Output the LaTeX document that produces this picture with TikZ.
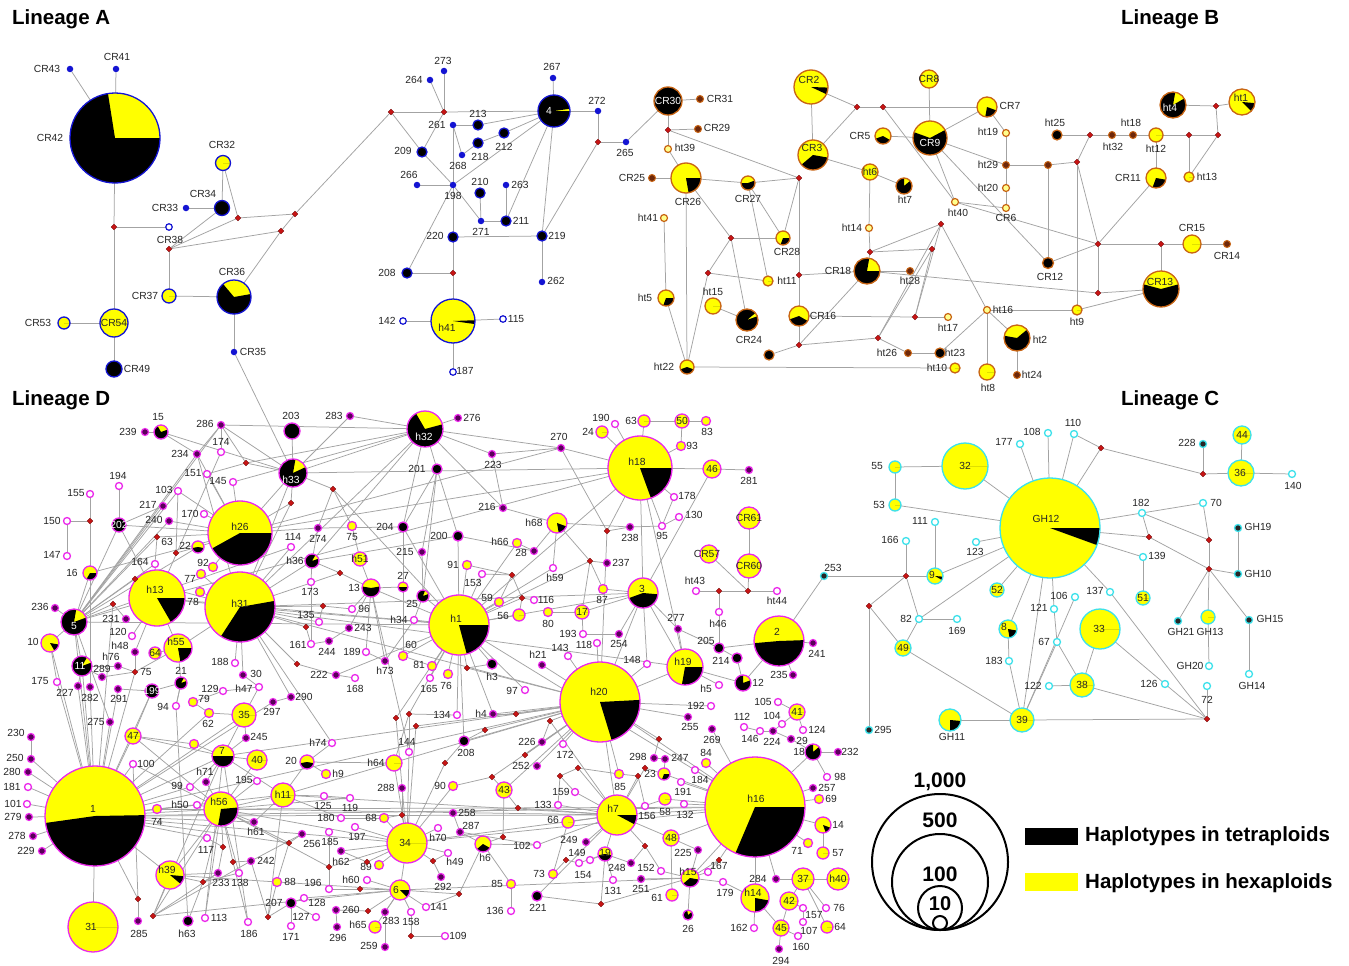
\documentclass[tikz,border=0pt]{standalone}
\usepackage{fontspec}
\setmainfont{Liberation Sans}
\usetikzlibrary{shapes.geometric}
\pgfdeclarelayer{bg}
\pgfsetlayers{bg,main}
\definecolor{cA}{RGB}{20,20,210}
\definecolor{cB}{RGB}{200,100,20}
\definecolor{cBd}{RGB}{110,40,10}
\definecolor{cC}{RGB}{60,225,235}
\definecolor{cD}{RGB}{235,40,235}
\definecolor{cDd}{RGB}{90,0,90}
\definecolor{yel}{RGB}{255,255,0}
\definecolor{mvred}{RGB}{200,20,20}
\tikzset{
 hbase/.style={circle,inner sep=0pt,outer sep=0pt},
 aS/.style={hbase,fill=cA,minimum size=6.5pt},
 aM/.style={hbase,fill=black,draw=cA,line width=1.3pt,minimum size=10pt},
 aH/.style={hbase,fill=white,draw=cA,line width=1.2pt,minimum size=6.5pt},
 bS/.style={hbase,fill=cBd,draw=cB,line width=1pt,minimum size=7pt},
 bH/.style={hbase,fill=yel!45,draw=cB,line width=1.2pt,minimum size=7pt},
 bK/.style={hbase,fill=black,draw=cB,line width=1.2pt,minimum size=10pt},
 cS/.style={hbase,fill=white,draw=cC,line width=1.3pt,minimum size=7pt},
 cK/.style={hbase,fill=black!85,draw=cC,line width=1.3pt,minimum size=7pt},
 dS/.style={hbase,fill=cDd,draw=cD,line width=1.2pt,minimum size=7pt},
 dO/.style={hbase,fill=white,draw=cD,line width=1.3pt,minimum size=7pt},
 dY/.style={hbase,fill=yel,draw=cD,line width=1.3pt,minimum size=9pt},
 dK/.style={hbase,fill=black,draw=cD,line width=1.3pt,minimum size=10pt},
 med/.style={diamond,fill=mvred,draw=mvred!60!black,line width=0.3pt,inner sep=0pt,minimum size=6pt},
 lab/.style={inner sep=0pt,font=\fontsize{10.3}{12}\selectfont,text=black!85},
 labw/.style={lab,text=white},
 ttl/.style={inner sep=0pt,font=\fontsize{20.5}{24}\selectfont\bfseries,anchor=west},
 edge/.style={draw=black!36,line width=0.75pt},
}
\newcommand\pie[7]{%
  \node[hbase,minimum size={2*#4pt}] (#1) at (#2,#3) {};
  \fill[yel] (#2,#3) circle[radius=#4];
  \fill[black] (#2,#3) -- ++(-#5:#4) arc[start angle=-#5,end angle=-#6,radius=#4] -- cycle;
  \draw[#7,line width=1.3pt] (#2,#3) circle[radius=#4];}
\newcommand\nd[7]{\node[#1] (#2) at (#3,#4) {};\node[lab] at (#5,#6) {#7};}
\newcommand\md[3]{\node[med] (#1) at (#2,#3) {};}
\newcommand\lb[3]{\node[lab] at (#1,#2) {#3};}
\newcommand\lw[3]{\node[labw] at (#1,#2) {#3};}
\begin{document}
\begin{tikzpicture}[x=1pt,y=-1pt]
\useasboundingbox (0,0) rectangle (1349,966);
\begin{pgfonlayer}{bg}\fill[white] (0,0) rectangle (1349,966);\end{pgfonlayer}
% titles
\node[ttl] at (12,19) {Lineage A};
\node[ttl] at (1121,19) {Lineage B};
\node[ttl] at (12,400) {Lineage D};
\node[ttl] at (1121,400) {Lineage C};
% ================= Lineage A
\pie{aCR42}{115}{138}{45}{99}{360}{cA}\lb{50}{138}{CR42}
\nd{aS}{aCR43}{70}{69}{47}{69}{CR43}
\nd{aS}{aCR41}{116}{69}{117}{57}{CR41}
\md{am1}{114}{227}
\nd{aH}{aCR38}{169}{227}{170}{240}{CR38}
\md{am2}{169}{249}
\pie{aCR32}{223}{163}{7.5}{0}{0}{cA}\lb{222}{145}{CR32}
\pie{aCR34}{222}{208}{7.5}{0}{360}{cA}\lb{203}{194}{CR34}
\nd{aS}{aCR33}{186}{208}{165}{208}{CR33}
\md{am3}{238}{218}\md{am4}{281}{231}\md{am5}{295}{214}
\pie{aCR36}{234}{297}{17}{130}{370}{cA}\lb{232}{272}{CR36}
\pie{aCR37}{169}{296}{7}{0}{0}{cA}\lb{145}{296}{CR37}
\nd{aS}{aCR35}{234}{352}{253}{352}{CR35}
\pie{aCR54}{114}{323}{14}{0}{0}{cA}\lb{114}{323}{CR54}
\pie{aCR53}{64}{323}{6}{0}{0}{cA}\lb{38}{323}{CR53}
\pie{aCR49}{114}{369}{8}{0}{360}{cA}\lb{137}{369}{CR49}
\md{am6}{391}{112}\md{am7}{444}{112}\md{am8}{598}{142}\md{am9}{453}{273}
\pie{a4}{554}{111}{16}{8}{360}{cA}\lw{549}{111}{4}
\nd{aS}{a273}{444}{71}{443}{61}{273}
\nd{aS}{a264}{430}{80}{414}{80}{264}
\nd{aS}{a267}{553}{78}{552}{67}{267}
\nd{aS}{a272}{598}{111}{597}{101}{272}
\nd{aS}{a265}{626}{142}{625}{153}{265}
\nd{aS}{a261}{453}{125}{437}{125}{261}
\nd{aS}{a268}{462}{155}{458}{166}{268}
\nd{aS}{a198}{453}{185}{453}{196}{198}
\nd{aS}{a266}{417}{185}{409}{175}{266}
\nd{aS}{a263}{506}{185}{520}{185}{263}
\nd{aS}{a271}{481}{221}{481}{232}{271}
\nd{aS}{a262}{542}{282}{556}{281}{262}
\nd{aM}{a213}{478}{125}{478}{114}{213}
\nd{aM}{a212}{504}{133}{504}{147}{212}
\nd{aM}{a218}{478}{143}{480}{157}{218}
\nd{aM}{a209}{422}{152}{403}{151}{209}
\nd{aM}{a210}{480}{193}{480}{182}{210}
\nd{aM}{a211}{506}{221}{521}{221}{211}
\nd{aM}{a220}{453}{237}{435}{236}{220}
\nd{aM}{a219}{542}{236}{557}{236}{219}
\nd{aM}{a208}{407}{273}{387}{273}{208}
\pie{ah41}{453}{321}{22}{352}{362}{cA}\lb{447}{328}{h41}
\nd{aH}{a142}{403}{321}{387}{321}{142}
\nd{aH}{a115}{503}{319}{516}{319}{115}
\nd{aH}{a187}{453}{372}{465}{371}{187}
% ================= Lineage B
\pie{bCR30}{668}{101}{14}{0}{360}{cB}\lw{668}{101}{CR30}
\nd{bS}{bCR31}{700}{99}{720}{99}{CR31}
\nd{bS}{bCR29}{698}{129}{717}{128}{CR29}
\nd{bS}{bCR25}{652}{178}{632}{178}{CR25}
\md{bm1}{668}{130}
\nd{bH}{bht39}{668}{149}{685}{148}{ht39}
\pie{bCR26}{686}{178}{15}{280}{360}{cB}\lb{688}{202}{CR26}
\pie{bCR27}{748}{183}{7}{180}{380}{cB}\lb{748}{199}{CR27}
\nd{bH}{bht41}{664}{218}{648}{218}{ht41}
\pie{bht5}{666}{298}{8}{250}{360}{cB}\lb{645}{298}{ht5}
\pie{bht22}{687}{367}{7}{200}{340}{cB}\lb{664}{367}{ht22}
\md{bm2}{799}{178}\md{bm3}{731}{238}\md{bm4}{708}{273}\md{bm5}{799}{275}\md{bm6}{799}{345}
\pie{bCR28}{783}{238}{7}{250}{360}{cB}\lb{787}{252}{CR28}
\pie{bht11}{768}{281}{5}{0}{0}{cB}\lb{787}{281}{ht11}
\pie{bCR16}{799}{316}{10}{200}{330}{cB}\lb{823}{316}{CR16}
\pie{bCR18}{867}{271}{13}{80}{360}{cB}\lb{838}{271}{CR18}
\pie{bht15}{713}{306}{8}{0}{0}{cB}\lb{713}{292}{ht15}
\pie{bCR24}{747}{320}{11}{40}{380}{cB}\lb{749}{340}{CR24}
\node[bK] (bu1) at (769,355) {};
\md{bm7}{878}{338}\md{bm8}{915}{317}
\nd{bH}{bht17}{948}{317}{948}{328}{ht17}
\nd{bS}{bht26}{908}{353}{887}{353}{ht26}
\nd{bK}{bht23}{940}{353}{955}{353}{ht23}
\pie{bht10}{955}{368}{5}{0}{0}{cB}\lb{937}{368}{ht10}
\md{bm9}{870}{252}
\nd{bH}{bht14}{869}{228}{852}{228}{ht14}
\pie{bht6}{870}{172}{8}{0}{0}{cB}\lb{870}{172}{ht6}
\pie{bht7}{904}{186}{8}{90}{400}{cB}\lb{905}{200}{ht7}
\md{bm10}{932}{249}\md{bm11}{941}{224}
\nd{bS}{bht28}{910}{271}{910}{281}{ht28}
\pie{bCR3}{813}{155}{15}{220}{350}{cB}\lb{812}{148}{CR3}
\pie{bCR2}{811}{87}{17}{335}{358}{cB}\lb{809}{80}{CR2}
\md{bm12}{857}{107}\md{bm13}{883}{107}
\pie{bCR5}{883}{136}{8}{200}{330}{cB}\lb{860}{136}{CR5}
\pie{bCR8}{929}{79}{9}{0}{0}{cB}\lb{929}{79}{CR8}
\pie{bCR9}{930}{138}{17}{160}{388}{cB}\lw{930}{143}{CR9}
\nd{bH}{bht40}{955}{202}{958}{213}{ht40}
\pie{bCR7}{987}{107}{10}{260}{340}{cB}\lb{1010}{106}{CR7}
\nd{bH}{bht19}{1006}{133}{988}{132}{ht19}
\nd{bS}{bht29}{1006}{165}{988}{165}{ht29}
\nd{bH}{bht20}{1006}{188}{988}{188}{ht20}
\nd{bH}{bCR6}{1006}{208}{1006}{218}{CR6}
\node[bS] (bu2) at (1048,165) {};
\md{bm15}{1077}{162}
\pie{bCR12}{1048}{263}{5.5}{0}{360}{cB}\lb{1050}{277}{CR12}
\nd{bK}{bht25}{1057}{135}{1055}{123}{ht25}
\md{bm17}{1090}{135}
\nd{bS}{bht32}{1112}{135}{1113}{147}{ht32}
\nd{bS}{bht18}{1133}{135}{1131}{123}{ht18}
\pie{bht12}{1156}{135}{7}{0}{0}{cB}\lb{1156}{149}{ht12}
\md{bm18}{1189}{135}\md{bm19}{1218}{135}\md{bm20}{1216}{106}
\pie{bCR11}{1156}{178}{10}{250}{350}{cB}\lb{1128}{178}{CR11}
\pie{bht13}{1189}{177}{5}{0}{0}{cB}\lb{1207}{177}{ht13}
\pie{bht4}{1173}{105}{13}{80}{390}{cB}\lw{1170}{108}{ht4}
\pie{bht1}{1242}{102}{13}{315}{355}{cB}\lb{1241}{98}{ht1}
\md{bm16}{1098}{244}\md{bm21}{1161}{244}\md{bm22}{1098}{293}
\pie{bCR15}{1192}{244}{9}{0}{0}{cB}\lb{1192}{228}{CR15}
\nd{bS}{bCR14}{1227}{244}{1227}{256}{CR14}
\pie{bCR13}{1161}{289}{18}{165}{375}{cB}\lb{1160}{282}{CR13}
\nd{bH}{bht16}{987}{310}{1003}{310}{ht16}
\pie{bht9}{1077}{310}{5}{0}{0}{cB}\lb{1077}{322}{ht9}
\pie{bht8}{987}{372}{8}{0}{0}{cB}\lb{988}{388}{ht8}
\pie{bht2}{1017}{338}{13}{170}{400}{cB}\lb{1040}{340}{ht2}
\nd{bS}{bht24}{1017}{375}{1032}{375}{ht24}
% ================= Lineage C
\pie{cGH12}{1050}{528}{50}{340}{360}{cC}\lb{1046}{519}{GH12}
\pie{c32}{965}{466}{23}{0}{0}{cC}\lb{965}{466}{32}
\pie{c55}{895}{467}{6}{0}{0}{cC}\lb{877}{466}{55}
\pie{c53}{895}{505}{6}{0}{0}{cC}\lb{879}{505}{53}
\pie{c36}{1241}{473}{13}{0}{0}{cC}\lb{1240}{473}{36}
\pie{c44}{1242}{435}{9}{0}{0}{cC}\lb{1242}{435}{44}
\pie{c9}{935}{576}{8}{330}{355}{cC}\lb{932}{575}{9}
\pie{c51}{1143}{598}{7}{0}{0}{cC}\lb{1143}{598}{51}
\pie{cGH13}{1208}{617}{7}{0}{0}{cC}\lb{1210}{632}{GH13}
\pie{c52}{997}{590}{7}{0}{0}{cC}\lb{997}{590}{52}
\pie{c33}{1100}{629}{20}{0}{0}{cC}\lb{1099}{629}{33}
\pie{c38}{1082}{685}{12}{0}{0}{cC}\lb{1082}{685}{38}
\pie{c39}{1022}{720}{12}{0}{0}{cC}\lb{1022}{720}{39}
\pie{cGH11}{950}{720}{11}{270}{355}{cC}\lb{952}{737}{GH11}
\pie{c8}{1008}{629}{9}{280}{350}{cC}\lb{1004}{627}{8}
\pie{c49}{903}{648}{8}{0}{0}{cC}\lb{903}{648}{49}
\nd{cS}{c177}{1020}{444}{1004}{442}{177}
\nd{cS}{c108}{1048}{433}{1032}{432}{108}
\nd{cS}{c110}{1074}{434}{1073}{423}{110}
\nd{cK}{c228}{1203}{444}{1187}{443}{228}
\nd{cS}{c140}{1292}{474}{1293}{486}{140}
\nd{cS}{c111}{935}{522}{920}{521}{111}
\nd{cS}{c166}{906}{541}{890}{540}{166}
\nd{cS}{c123}{976}{542}{975}{552}{123}
\nd{cS}{c182}{1142}{513}{1141}{503}{182}
\nd{cS}{c70}{1203}{503}{1216}{503}{70}
\nd{cK}{cGH19}{1238}{528}{1258}{527}{GH19}
\nd{cK}{cGH10}{1238}{574}{1258}{574}{GH10}
\nd{cS}{c139}{1143}{557}{1157}{556}{139}
\nd{cK}{cGH21}{1178}{621}{1181}{632}{GH21}
\nd{cK}{cGH15}{1249}{620}{1270}{619}{GH15}
\nd{cS}{cGH14}{1249}{674}{1252}{686}{GH14}
\nd{cS}{cGH20}{1209}{666}{1190}{666}{GH20}
\nd{cS}{c72}{1207}{686}{1207}{700}{72}
\nd{cS}{c106}{1075}{597}{1059}{596}{106}
\nd{cS}{c137}{1110}{592}{1095}{591}{137}
\nd{cS}{c121}{1054}{609}{1039}{608}{121}
\nd{cS}{c67}{1057}{642}{1044}{642}{67}
\nd{cS}{c122}{1049}{686}{1033}{686}{122}
\nd{cS}{c126}{1165}{684}{1149}{684}{126}
\nd{cS}{c183}{1009}{661}{994}{661}{183}
\nd{cS}{c82}{919}{619}{906}{619}{82}
\nd{cS}{c169}{957}{619}{957}{631}{169}
\nd{cK}{c295}{869}{730}{883}{730}{295}
\nd{cK}{c253}{824}{576}{833}{568}{253}
\md{cm1}{1101}{448}\md{cm2}{1203}{474}\md{cm3}{906}{576}\md{cm4}{1149}{537}
\md{cm5}{1209}{540}\md{cm6}{1209}{569}\md{cm7}{1207}{719}\md{cm8}{869}{606}
% ================= Lineage D : pies
\pie{d1}{95}{816}{50}{188}{361}{cD}\lb{93}{809}{1}
\pie{d31}{93}{927}{25}{0}{0}{cD}\lb{91}{927}{31}
\pie{dh13}{157}{598}{28}{300}{360}{cD}\lb{155}{590}{h13}
\pie{dh26}{240}{533}{32}{209}{360}{cD}\lb{240}{527}{h26}
\pie{dh31}{240}{607}{35}{237}{370}{cD}\lb{240}{604}{h31}
\pie{d5}{74}{622}{13}{80}{380}{cD}\lw{74}{626}{5}
\pie{d10}{50}{643}{9}{300}{350}{cD}\lb{33}{642}{10}
\pie{d11}{82}{666}{10}{60}{380}{cD}\lw{80}{666}{11}
\pie{d15}{161}{432}{7}{120}{380}{cD}\lb{158}{417}{15}
\pie{d202}{119}{525}{7}{0}{360}{cD}\lw{119}{525}{202}
\pie{d16}{90}{573}{7}{240}{360}{cD}\lb{72}{573}{16}
\pie{d22}{198}{547}{6}{190}{350}{cD}\lb{185}{546}{22}
\pie{dh55}{178}{648}{14}{280}{360}{cD}\lb{176}{642}{h55}
\pie{d64}{155}{653}{6}{0}{0}{cD}\lb{155}{653}{64}
\pie{d21}{181}{683}{6}{60}{380}{cD}\lb{181}{671}{21}
\pie{d199}{152}{691}{7}{0}{360}{cD}\lw{152}{691}{199}
\pie{d35}{244}{715}{12}{0}{0}{cD}\lb{244}{715}{35}
\pie{d47}{133}{736}{8}{0}{0}{cD}\lb{133}{736}{47}
\pie{d7}{223}{756}{11}{180}{360}{cD}\lb{222}{751}{7}
\pie{d40}{257}{760}{10}{0}{0}{cD}\lb{257}{760}{40}
\pie{dh56}{221}{809}{17}{260}{365}{cD}\lb{219}{802}{h56}
\pie{dh39}{170}{875}{14}{320}{355}{cD}\lb{167}{870}{h39}
\pie{dh11}{283}{795}{12}{0}{0}{cD}\lb{283}{795}{h11}
\pie{d34}{407}{843}{20}{0}{0}{cD}\lb{405}{843}{34}
\pie{d6}{400}{890}{10}{315}{360}{cD}\lb{396}{890}{6}
\pie{d43}{504}{790}{8}{0}{0}{cD}\lb{504}{790}{43}
\pie{dh6}{483}{844}{8}{220}{330}{cD}\lb{485}{858}{h6}
\pie{dh64}{394}{763}{8}{0}{0}{cD}\lb{376}{763}{h64}
\pie{d20}{307}{762}{7}{190}{350}{cD}\lb{291}{761}{20}
\pie{dh32}{425}{429}{18}{120}{375}{cD}\lw{424}{437}{h32}
\pie{d203}{292}{431}{8}{0}{360}{cD}\lb{291}{416}{203}
\pie{dh33}{293}{473}{14}{80}{385}{cD}\lw{291}{480}{h33}
\pie{dh36}{312}{561}{7}{60}{380}{cD}\lb{295}{561}{h36}
\pie{dh51}{360}{559}{7}{0}{0}{cD}\lb{360}{559}{h51}
\pie{d13}{371}{588}{9}{170}{370}{cD}\lb{354}{588}{13}
\pie{d27}{403}{587}{5}{180}{360}{cD}\lb{403}{576}{27}
\pie{d25}{423}{596}{6}{70}{380}{cD}\lb{412}{604}{25}
\pie{dh1}{459}{625}{30}{285}{360}{cD}\lb{456}{619}{h1}
\pie{dh18}{640}{468}{32}{290}{360}{cD}\lb{637}{462}{h18}
\pie{d50}{682}{421}{7}{0}{0}{cD}\lb{682}{421}{50}
\pie{d46}{712}{469}{9}{0}{0}{cD}\lb{712}{469}{46}
\pie{dh68}{557}{523}{10}{280}{340}{cD}\lb{534}{523}{h68}
\pie{dCR61}{749}{518}{11}{0}{0}{cD}\lb{749}{518}{CR61}
\pie{dCR57}{709}{554}{9}{0}{0}{cD}\lb{707}{554}{CR57}
\pie{dCR60}{749}{566}{12}{0}{0}{cD}\lb{749}{566}{CR60}
\pie{d3}{643}{593}{15}{200}{355}{cD}\lb{642}{589}{3}
\pie{d17}{582}{612}{7}{0}{0}{cD}\lb{582}{612}{17}
\pie{d2}{779}{641}{25}{185}{362}{cD}\lb{777}{632}{2}
\pie{dh19}{685}{667}{18}{260}{360}{cD}\lb{683}{662}{h19}
\pie{d12}{743}{683}{8}{90}{380}{cD}\lb{758}{683}{12}
\pie{dh20}{600}{702}{40}{287}{363}{cD}\lb{599}{692}{h20}
\pie{d41}{797}{712}{8}{0}{0}{cD}\lb{797}{712}{41}
\pie{d18}{813}{752}{8}{90}{400}{cD}\lb{799}{752}{18}
\pie{d23}{664}{774}{6}{250}{360}{cD}\lb{650}{774}{23}
\pie{dh16}{755}{807}{50}{247}{360}{cD}\lb{756}{799}{h16}
\pie{dh7}{617}{815}{20}{332}{360}{cD}\lb{613}{809}{h7}
\pie{d14}{823}{825}{8}{290}{340}{cD}\lb{838}{825}{14}
\pie{d48}{671}{838}{8}{0}{0}{cD}\lb{671}{838}{48}
\pie{d19}{605}{854}{7}{190}{350}{cD}\lb{605}{853}{19}
\pie{dh15}{690}{878}{9}{220}{350}{cD}\lb{688}{872}{h15}
\pie{d37}{803}{879}{11}{0}{0}{cD}\lb{803}{879}{37}
\pie{dh40}{838}{879}{11}{0}{0}{cD}\lb{838}{879}{h40}
\pie{dh14}{755}{898}{14}{270}{350}{cD}\lb{753}{893}{h14}
\pie{d42}{789}{901}{9}{0}{0}{cD}\lb{789}{901}{42}
\pie{d45}{781}{928}{8}{0}{0}{cD}\lb{781}{928}{45}
\pie{d26}{688}{915}{5}{100}{400}{cD}\lb{688}{929}{26}
\pie{d24}{602}{432}{6}{0}{0}{cD}\lb{588}{432}{24}
\pie{d63}{644}{421}{6}{0}{0}{cD}\lb{631}{421}{63}
\pie{d56}{519}{615}{6}{0}{0}{cD}\lb{503}{616}{56}
\pie{d58}{665}{799}{6}{0}{0}{cD}\lb{665}{812}{58}
\pie{d66}{568}{822}{6}{0}{0}{cD}\lb{553}{820}{66}
\pie{d57}{823}{853}{6}{0}{0}{cD}\lb{838}{853}{57}
\pie{d61}{672}{895}{6}{0}{0}{cD}\lb{657}{898}{61}
\pie{d64b}{827}{927}{6}{0}{0}{cD}\lb{840}{927}{64}
\pie{dh65}{375}{927}{6}{0}{0}{cD}\lb{358}{925}{h65}
% D yellow small
\nd{dY}{d75}{352}{526}{352}{537}{75}
\nd{dY}{d92}{213}{567}{203}{563}{92}
\nd{dY}{d77}{201}{574}{190}{579}{77}
\nd{dY}{d78}{200}{592}{193}{602}{78}
\nd{dY}{d79}{193}{702}{204}{699}{79}
\nd{dY}{d62}{209}{713}{208}{724}{62}
\nd{dY}{d74}{157}{809}{157}{822}{74}
\node[dY] (du1) at (194,744) {};
\nd{dY}{d59}{499}{602}{487}{598}{59}
\nd{dY}{d60}{403}{656}{411}{645}{60}
\nd{dY}{d81}{432}{666}{419}{665}{81}
\nd{dY}{d76}{448}{674}{446}{686}{76}
\nd{dY}{d68}{384}{818}{371}{818}{68}
\nd{dY}{d89}{379}{865}{366}{867}{89}
\nd{dY}{dh9}{326}{774}{338}{774}{h9}
\nd{dY}{d90}{453}{786}{440}{786}{90}
\nd{dY}{d85b}{511}{884}{497}{884}{85}
\nd{dY}{d88}{277}{882}{290}{882}{88}
\nd{dY}{d69}{819}{799}{831}{799}{69}
\nd{dY}{d71}{808}{843}{797}{851}{71}
\nd{dY}{d87}{603}{589}{602}{600}{87}
\nd{dY}{d80}{548}{612}{548}{624}{80}
\nd{dY}{d84}{706}{763}{706}{753}{84}
\nd{dY}{d85}{619}{774}{620}{787}{85}
\nd{dY}{dh66}{517}{543}{500}{542}{h66}
\nd{dY}{d91}{467}{565}{453}{565}{91}
\nd{dY}{d93}{681}{446}{692}{446}{93}
\nd{dY}{d83}{706}{421}{707}{432}{83}
\nd{dY}{d73}{553}{874}{539}{874}{73}
% D dark small
\nd{dS}{d239}{145}{432}{128}{432}{239}
\nd{dS}{d286}{221}{425}{205}{424}{286}
\nd{dS}{d234}{197}{454}{180}{454}{234}
\nd{dS}{d217}{163}{506}{148}{505}{217}
\nd{dS}{d240}{169}{521}{154}{520}{240}
\nd{dS}{d236}{55}{608}{40}{607}{236}
\nd{dS}{d231}{126}{619}{111}{619}{231}
\nd{dS}{dh48}{135}{652}{120}{646}{h48}
\nd{dS}{dh76}{118}{666}{111}{657}{h76}
\nd{dS}{d289}{102}{677}{102}{669}{289}
\nd{dS}{d30}{243}{675}{256}{674}{30}
\nd{dS}{d227}{78}{686}{65}{693}{227}
\nd{dS}{d282}{90}{687}{90}{698}{282}
\nd{dS}{d291}{118}{689}{119}{699}{291}
\nd{dS}{d275}{110}{722}{96}{722}{275}
\nd{dS}{d230}{31}{737}{16}{733}{230}
\nd{dS}{d250}{31}{759}{15}{758}{250}
\nd{dS}{d280}{28}{772}{12}{772}{280}
\nd{dS}{d279}{29}{817}{13}{817}{279}
\nd{dS}{d278}{33}{836}{17}{836}{278}
\nd{dS}{d229}{42}{851}{26}{851}{229}
\nd{dS}{d245}{246}{738}{259}{737}{245}
\nd{dS}{dh71}{206}{782}{205}{772}{h71}
\nd{dS}{dh61}{254}{822}{256}{832}{h61}
\nd{dS}{d242}{251}{861}{266}{861}{242}
\nd{dS}{d233}{218}{873}{221}{883}{233}
\nd{dS}{d285}{138}{921}{139}{934}{285}
\nd{dS}{d283}{350}{416}{334}{416}{283}
\nd{dS}{d276}{458}{418}{472}{418}{276}
\nd{dS}{d223}{492}{454}{493}{465}{223}
\nd{dS}{d216}{503}{508}{487}{507}{216}
\nd{dS}{d274}{318}{528}{318}{539}{274}
\nd{dS}{d215}{422}{552}{405}{552}{215}
\nd{dS}{d243}{349}{628}{363}{628}{243}
\nd{dS}{d244}{329}{641}{327}{652}{244}
\nd{dS}{dh73}{385}{661}{385}{671}{h73}
\nd{dS}{d222}{336}{675}{319}{675}{222}
\nd{dS}{d290}{291}{697}{304}{697}{290}
\nd{dS}{d297}{273}{702}{272}{712}{297}
\nd{dS}{dh4}{493}{714}{481}{714}{h4}
\nd{dS}{d252}{537}{766}{521}{766}{252}
\nd{dS}{d288}{402}{788}{386}{788}{288}
\nd{dS}{d258}{453}{813}{467}{813}{258}
\nd{dS}{d287}{460}{832}{471}{826}{287}
\nd{dS}{d256}{302}{834}{312}{844}{256}
\nd{dS}{dh62}{341}{851}{341}{862}{h62}
\nd{dS}{d292}{441}{877}{443}{887}{292}
\nd{dS}{d260}{336}{910}{351}{910}{260}
\nd{dS}{d283b}{385}{912}{391}{921}{283}
\nd{dS}{d296}{337}{927}{338}{938}{296}
\nd{dS}{d259}{385}{947}{369}{946}{259}
\nd{dS}{d270}{561}{448}{559}{437}{270}
\nd{dS}{d281}{749}{470}{749}{481}{281}
\nd{dS}{d238}{630}{527}{630}{538}{238}
\nd{dS}{d237}{607}{563}{621}{563}{237}
\nd{dS}{d28}{534}{551}{521}{553}{28}
\nd{dS}{d277}{678}{629}{676}{618}{277}
\nd{dS}{d254}{619}{634}{619}{644}{254}
\nd{dS}{d241}{813}{643}{817}{654}{241}
\nd{dS}{dh21}{542}{665}{538}{655}{h21}
\nd{dS}{d235}{793}{675}{779}{675}{235}
\nd{dS}{d255}{688}{717}{690}{727}{255}
\nd{dS}{d269}{712}{729}{712}{740}{269}
\nd{dS}{d224}{773}{731}{772}{742}{224}
\nd{dS}{d29}{791}{739}{802}{741}{29}
\nd{dS}{d226}{542}{742}{527}{742}{226}
\nd{dS}{d232}{838}{752}{850}{752}{232}
\nd{dS}{d298}{654}{758}{638}{757}{298}
\nd{dS}{d247}{665}{759}{680}{758}{247}
\nd{dS}{d257}{813}{788}{827}{788}{257}
\nd{dS}{d249}{586}{842}{569}{840}{249}
\nd{dS}{d225}{698}{850}{683}{853}{225}
\nd{dS}{d248}{631}{863}{617}{868}{248}
\nd{dS}{d284}{776}{879}{758}{879}{284}
\nd{dS}{d251}{641}{879}{641}{889}{251}
\nd{dS}{d294}{779}{949}{781}{961}{294}
% D black
\nd{dK}{d201}{437}{469}{417}{469}{201}
\nd{dK}{d204}{403}{527}{385}{527}{204}
\nd{dK}{d200}{458}{536}{439}{536}{200}
\nd{dK}{dh3}{492}{664}{492}{677}{h3}
\nd{dK}{d208}{464}{741}{466}{753}{208}
\nd{dK}{d207}{291}{903}{274}{903}{207}
\nd{dK}{dh63}{188}{921}{187}{934}{h63}
\nd{dK}{d205}{719}{648}{706}{641}{205}
\nd{dK}{d214}{737}{658}{721}{661}{214}
\nd{dK}{d221}{537}{896}{538}{908}{221}
% D hollow
\nd{dO}{d174}{221}{452}{221}{442}{174}
\nd{dO}{d151}{207}{474}{193}{473}{151}
\nd{dO}{d145}{233}{482}{218}{481}{145}
\nd{dO}{d194}{119}{486}{118}{476}{194}
\nd{dO}{d155}{90}{494}{76}{493}{155}
\nd{dO}{d103}{178}{491}{164}{490}{103}
\nd{dO}{d170}{204}{514}{190}{514}{170}
\nd{dO}{d150}{67}{521}{52}{521}{150}
\nd{dO}{d147}{67}{556}{52}{555}{147}
\nd{dO}{d164}{155}{564}{140}{562}{164}
\nd{dO}{d120}{132}{636}{118}{632}{120}
\nd{dO}{d188}{235}{663}{220}{662}{188}
\nd{dO}{d175}{57}{682}{40}{681}{175}
\nd{dO}{d94}{176}{706}{163}{707}{94}
\nd{dO}{d129}{223}{691}{210}{689}{129}
\nd{dO}{dh47}{259}{687}{244}{689}{h47}
\nd{dO}{d100}{133}{764}{146}{764}{100}
\nd{dO}{d181}{28}{787}{12}{787}{181}
\nd{dO}{d99}{190}{787}{177}{786}{99}
\nd{dO}{d195}{257}{781}{244}{780}{195}
\nd{dO}{d101}{27}{804}{13}{804}{101}
\nd{dO}{dh50}{197}{805}{180}{805}{h50}
\nd{dO}{d117}{207}{838}{206}{850}{117}
\nd{dO}{d138}{239}{873}{240}{883}{138}
\nd{dO}{d113}{205}{918}{219}{918}{113}
\nd{dO}{d186}{248}{922}{249}{934}{186}
\nd{dO}{d114}{291}{547}{293}{537}{114}
\nd{dO}{d173}{311}{582}{310}{592}{173}
\nd{dO}{d153}{482}{574}{473}{583}{153}
\nd{dO}{d96}{352}{609}{364}{609}{96}
\nd{dO}{d135}{319}{622}{306}{615}{135}
\nd{dO}{dh34}{414}{620}{399}{620}{h34}
\nd{dO}{d161}{311}{644}{298}{645}{161}
\nd{dO}{d189}{366}{652}{352}{652}{189}
\nd{dO}{d165}{430}{678}{429}{689}{165}
\nd{dO}{d168}{355}{678}{355}{689}{168}
\nd{dO}{d134}{457}{715}{442}{715}{134}
\nd{dO}{dh74}{332}{743}{318}{743}{h74}
\nd{dO}{d144}{409}{752}{407}{742}{144}
\nd{dO}{d125}{324}{796}{323}{806}{125}
\nd{dO}{d119}{350}{798}{350}{808}{119}
\nd{dO}{d180}{341}{818}{326}{818}{180}
\nd{dO}{d197}{355}{827}{357}{837}{197}
\nd{dO}{dh70}{438}{828}{438}{838}{h70}
\nd{dO}{d185}{329}{832}{330}{842}{185}
\nd{dO}{d102}{537}{845}{522}{846}{102}
\nd{dO}{dh49}{448}{853}{455}{862}{h49}
\nd{dO}{d196}{329}{889}{313}{883}{196}
\nd{dO}{dh60}{367}{880}{351}{880}{h60}
\nd{dO}{d128}{304}{898}{317}{903}{128}
\nd{dO}{d158}{411}{912}{411}{922}{158}
\nd{dO}{d141}{426}{907}{439}{907}{141}
\nd{dO}{d136}{511}{911}{495}{911}{136}
\nd{dO}{d127}{316}{917}{301}{917}{127}
\nd{dO}{d171}{291}{926}{291}{937}{171}
\nd{dO}{d109}{445}{936}{458}{936}{109}
\nd{dO}{d190}{615}{424}{601}{418}{190}
\nd{dO}{d178}{674}{497}{687}{496}{178}
\nd{dO}{d130}{679}{517}{694}{515}{130}
\nd{dO}{d95}{662}{526}{662}{536}{95}
\nd{dO}{dh59}{553}{568}{555}{578}{h59}
\nd{dO}{d116}{534}{600}{546}{600}{116}
\nd{dO}{dht43}{696}{591}{695}{581}{ht43}
\nd{dO}{dht44}{777}{591}{777}{601}{ht44}
\nd{dO}{dh46}{719}{612}{718}{624}{h46}
\nd{dO}{d193}{583}{634}{568}{634}{193}
\nd{dO}{d118}{597}{643}{584}{645}{118}
\nd{dO}{d143}{568}{656}{560}{648}{143}
\nd{dO}{d148}{647}{664}{632}{660}{148}
\nd{dO}{dh5}{719}{685}{706}{689}{h5}
\nd{dO}{d105}{778}{702}{763}{702}{105}
\nd{dO}{d192}{711}{706}{696}{706}{192}
\nd{dO}{d104}{782}{724}{772}{716}{104}
\nd{dO}{d112}{744}{727}{742}{717}{112}
\nd{dO}{d124}{803}{730}{817}{730}{124}
\nd{dO}{d146}{760}{731}{750}{739}{146}
\nd{dO}{d172}{563}{744}{565}{755}{172}
\nd{dO}{d184}{695}{770}{700}{780}{184}
\nd{dO}{d98}{827}{777}{840}{777}{98}
\nd{dO}{d191}{681}{782}{683}{792}{191}
\nd{dO}{d159}{575}{792}{561}{792}{159}
\nd{dO}{d133}{558}{805}{543}{805}{133}
\nd{dO}{d132}{684}{804}{685}{815}{132}
\nd{dO}{d156}{645}{806}{647}{816}{156}
\nd{dO}{d149}{579}{863}{577}{853}{149}
\nd{dO}{d154}{590}{860}{583}{875}{154}
\nd{dO}{d152}{661}{871}{646}{868}{152}
\nd{dO}{d167}{708}{872}{719}{866}{167}
\nd{dO}{d131}{613}{880}{613}{891}{131}
\nd{dO}{d179}{723}{882}{725}{893}{179}
\nd{dO}{d162}{754}{928}{739}{928}{162}
\nd{dO}{d157}{803}{908}{814}{915}{157}
\nd{dO}{d76b}{826}{908}{839}{908}{76}
\nd{dO}{d107}{803}{922}{809}{931}{107}
\nd{dO}{d160}{798}{936}{801}{947}{160}
\nd{dO}{d97}{525}{690}{512}{691}{97}
\lb{167}{542}{63}\lb{146}{672}{75}
% D medians
\md{dm1}{246}{463}\md{dm2}{90}{521}\md{dm3}{157}{537}\md{dm4}{176}{553}\md{dm5}{135}{579}
\md{dm6}{113}{604}\md{dm7}{135}{672}\md{dm8}{223}{847}\md{dm9}{233}{862}\md{dm10}{203}{882}
\md{dm11}{138}{899}\md{dm12}{153}{916}\md{dm13}{268}{917}\md{dm14}{333}{489}\md{dm15}{291}{503}
\md{dm16}{340}{573}\md{dm17}{512}{575}\md{dm18}{522}{598}\md{dm19}{323}{606}\md{dm20}{306}{627}
\md{dm21}{297}{664}\md{dm22}{467}{668}\md{dm23}{396}{718}\md{dm24}{409}{714}\md{dm25}{416}{726}
\md{dm26}{516}{714}\md{dm27}{485}{730}\md{dm28}{525}{755}\md{dm29}{445}{763}\md{dm30}{492}{777}
\md{dm31}{518}{808}\md{dm32}{402}{815}\md{dm33}{289}{843}\md{dm34}{503}{837}\md{dm35}{367}{862}
\md{dm36}{433}{861}\md{dm37}{329}{867}\md{dm38}{360}{889}\md{dm39}{459}{894}\md{dm40}{368}{911}
\md{dm42}{411}{936}\md{dm43}{607}{531}\md{dm44}{590}{561}\md{dm45}{719}{591}\md{dm46}{748}{591}
\md{dm47}{550}{721}\md{dm48}{659}{739}\md{dm49}{578}{768}\md{dm50}{560}{776}\md{dm51}{645}{768}
\md{dm52}{638}{776}\md{dm53}{645}{846}\md{dm54}{566}{860}\md{dm55}{719}{860}\md{dm56}{601}{904}
% ================= legend
\draw[line width=2pt] (940,862) circle[radius=68];
\draw[line width=2pt] (940,882) circle[radius=48];
\draw[line width=2pt] (940,908) circle[radius=22];
\draw[line width=2pt] (940,923) circle[radius=7];
\node[inner sep=0pt,font=\fontsize{21}{24}\selectfont\bfseries] at (940,782) {1,000};
\node[inner sep=0pt,font=\fontsize{21}{24}\selectfont\bfseries] at (940,820) {500};
\node[inner sep=0pt,font=\fontsize{21}{24}\selectfont\bfseries] at (940,874) {100};
\node[inner sep=0pt,font=\fontsize{20}{24}\selectfont\bfseries] at (940,904) {10};
\fill[black] (1025,828) rectangle (1078,845);
\fill[yel] (1025,873) rectangle (1078,891);
\node[anchor=west,inner sep=0pt,font=\fontsize{20.5}{24}\selectfont\bfseries] at (1085,836) {Haplotypes in tetraploids};
\node[anchor=west,inner sep=0pt,font=\fontsize{20.5}{24}\selectfont\bfseries] at (1085,883) {Haplotypes in hexaploids};
% ================= edges
\begin{pgfonlayer}{bg}
\foreach \a/\b in {aCR43/aCR42,aCR41/aCR42,aCR42/am1,am1/aCR38,am1/aCR54,aCR54/aCR53,aCR54/aCR49,am2/aCR34,am2/am3,am2/am4,am2/aCR37,aCR32/aCR34,aCR32/am3,aCR33/aCR34,am3/am5,am5/am4,am4/aCR36,aCR37/aCR36,aCR36/aCR35,aCR35/dh33,am5/am6,
am6/am7,am6/a209,am7/a4,am7/a273,am7/a264,am7/a209,a4/a267,a4/a272,a272/am8,am8/a265,a265/bCR30,am8/a219,a261/a213,a213/a4,a212/a4,a268/a218,a218/a212,a261/a268,a261/a198,a198/a209,a198/a266,a198/a4,a198/a271,a198/a220,a198/a208,a210/a271,a271/a211,a263/a211,a211/a4,a219/a4,a220/a219,a219/a262,a220/am9,am9/a208,am9/ah41,ah41/a142,ah41/a115,ah41/a187}
  \draw[edge] (\a) -- (\b);
\foreach \a/\b in {bCR30/bCR31,bCR30/bm1,bm1/bCR29,bm1/bht39,bht39/bCR26,bm1/bm2,bCR25/bCR26,bCR26/bCR27,bCR27/bm2,bht41/bht5,bCR26/bht22,bht5/bht22,bCR26/bm3,bm3/bCR28,bm3/bm4,bm4/bht11,bm4/bht22,bm3/bCR24,bCR27/bCR28,bCR27/bht11,bm2/bCR28,bm2/bm5,bm5/bCR16,bCR16/bm6,bm5/bCR18,bht15/bCR24,bm6/bu1,bm6/bCR18,bm6/bm7,bCR16/bm8,bm8/bht17,bm7/bht26,bht26/bht23,bht22/bht10,bht6/bht14,bht14/bm9,bm9/bCR18,bm9/bm10,bm9/bm11,bm11/bm7,bm10/bm7,bm11/bm8,bm10/bm8,bCR18/bht28,bCR18/bm22,bCR2/bCR3,bCR2/bm12,bCR3/bm12,bm12/bm13,bCR3/bht6,bht6/bht7,bm13/bCR7,bm13/bht40,bCR5/bCR9,bCR8/bCR9,bCR9/bCR7,bCR9/bht40,bCR9/bht29,bCR9/bCR12,bht40/bCR6,bht40/bm16,bCR7/bht19,bht19/bht29,bht29/bht20,bht20/bCR6,bht29/bu2,bu2/bm15,bu2/bCR12,bm15/bm17,bm15/bm16,bm15/bht9,bht25/bm17,bm17/bht32,bht32/bht18,bht18/bht12,bht12/bm18,bm18/bm19,bht12/bCR11,bCR11/bm16,bm18/bht13,bm19/bht13,bm19/bm20,bht4/bm20,bm20/bht1,bm16/bCR12,bm16/bm21,bm21/bCR15,bCR15/bCR14,bm21/bCR13,bm16/bm22,bm22/bCR13,bht16/bht9,bht9/bCR13,bht16/bht8,bht16/bht2,bht2/bht24,bht16/bht23,bm11/bht16}
  \draw[edge] (\a) -- (\b);
\foreach \a/\b in {c55/c32,c55/c53,c53/cGH12,c32/cGH12,c177/cGH12,c108/cGH12,c110/cGH12,c110/cm1,cm1/cGH12,cm1/cm2,cm2/c228,cm2/c36,c36/c44,c36/c140,c111/c9,c166/cm3,c123/cGH12,cm3/c9,c9/cGH12,cGH12/c182,c182/c70,c182/cm4,cGH12/cm4,c182/cm5,c70/cm5,cm5/cm6,cm4/cm6,cGH19/cGH10,cm6/cGH10,cGH12/c139,c139/c51,cm6/cGH21,cm6/cGH13,cm6/cGH15,cGH15/cGH14,cGH13/cGH20,c72/cm7,c52/cGH12,cGH12/c137,c137/cm7,cGH12/c121,c121/c67,c106/c39,c67/c38,c33/c38,c33/c126,c126/cm7,c122/c38,c38/cm7,c39/cm7,c39/cGH11,cGH12/c8,c8/c183,c183/c39,cGH12/c39,c67/c39,c82/c169,c82/cGH12,cm3/c82,c82/c49,cm3/cm8,cm8/c49,cm8/c295,cm3/c253,c49/c39,c253/d2}
  \draw[edge] (\a) -- (\b);
\foreach \a/\b in {d239/d15,d15/d234,d15/dh33,d286/d174,d286/d234,d286/dm1,d286/d5,d286/dh33,d286/dh32,d234/dh26,d234/d5,d234/dh31,dm1/dh33,dm1/dh32,dm1/d151,d151/dh26,d145/dh26,d145/dh32,d174/dh13,
d194/d202,d202/dh26,d202/d5,d202/dh13,d155/dm2,d150/dm2,d150/d147,dm2/d16,d16/d282,d16/d5,d16/dh26,d103/d5,d103/dm4,d103/dh26,d217/d5,d217/d202,d240/dh26,d240/d5,d170/dh26,dm3/d5,dm3/dh26,dm3/d164,dm4/d22,d22/dh26,d22/d5,d92/dh26,d77/dh31,d78/dh31,d164/d5,d164/dh13,dm5/d5,dm5/dh13,dm5/dh31,dm6/d5,dm6/d231,dm6/d1,dh13/dh31,dh13/dh55,dh13/d5,d236/d5,d5/d10,d5/d11,d5/d1,d5/d275,d120/dh13,dh48/dh13,dh48/dm7,dh76/d11,dh76/dm7,dm7/d289,dm7/dh55,dm7/d1,d289/d11,d11/d227,d11/d1,d64/dh55,dh55/d21,dh55/dh31,d21/d199,d21/d94,d188/dh31,d30/dh31,d30/dh47,d175/d10,d175/d1,d10/d1}
  \draw[edge] (\a) -- (\b);
\foreach \a/\b in {d1/d227,d1/d282,d1/d291,d1/d275,d1/d199,d1/d47,d1/d100,d1/d74,d1/d250,d1/d280,d1/d181,d1/d101,d1/d279,d1/d278,d1/d229,d1/d31,d1/dm11,d230/d250,d1/dh50,d1/d99,d1/dh56,d1/d7,d1/d117,d1/dh39,d1/d62,d1/d35,d1/dh11,d1/dh61,
dm11/d285,dm11/d100,dm12/dh39,dm12/d233,dm12/dh56,dm12/d242,dm12/d7,dh63/d94,dh63/dm10,dm10/d233,dm10/dh56,dm10/d138,d113/dh56,d113/d7,d186/d7,d186/dm9,dm8/d117,dm8/dh56,dm8/d233,dm9/d242,dm9/dh56,d138/dh56,dm13/d242,dm13/d207,dm13/dh11,
d74/dh56,d74/dh50,dh50/dh56,d99/d7,dh71/d7,dh71/dh56,d195/dh56,d7/d245,d7/d40,d7/d35,d7/dh11,d245/d35,d35/d62,d35/dh47,d129/dh47,d79/d62,d79/d129,d94/d21,d199/d291,d199/d47,d47/dh56,d47/d7,du1/d7,du1/d47,d100/dh56,dh56/dh61,dh56/d40,dh61/dh11,dh56/dh11,dh39/dm10,dh39/d233,dh39/dh56}
  \draw[edge] (\a) -- (\b);
\foreach \a/\b in {d203/dh33,d283/dh32,d283/dh33,dh33/dm14,dh33/dm15,dh33/dh26,dh33/dh31,dh33/dh32,dh32/d276,dh32/d223,dh32/d201,dh32/d270,dh32/dh36,dh32/dh31,dh32/d216,dh32/d204,d201/d204,d201/d200,d201/d215,d201/d25,d223/d270,d223/d216,d200/d28,d200/dh1,d200/dh36,d216/dh68,d204/d27,d204/d274,d204/dh1,d274/dh26,d274/dm14,d274/dh36,d75/dh51,d75/dm14,d114/dh31,d114/d5,dh36/d173,dh36/dh31,dh51/d13,d215/d25,d13/d96,d13/d243,d13/dh1,d13/dh73,d13/d144,d13/dm16,dm16/dh36,dm16/dh31,d173/d161,d27/d60,d27/d13,d25/dh1,d25/dh34,d91/dh1,d91/dm17,d153/dh1,d153/dm17,dm17/d59,dm17/dm18,dm18/d56,dm18/dh1,d59/dh1,d56/dh1,dh66/dh1,dh66/d28,d28/dh68,dm19/dh31,dm19/d96,dm19/d135,d135/dh31,dm20/dh31,dm20/d161,d161/d244,d244/d243,d189/dh73,d189/d13,d60/dh1,d60/d81,dh34/dh1,dh34/dh73,dm21/d222,dm21/dh31,d222/dh1,d81/dh1,d76/dh1,d165/dh1,d168/d222,dm22/dh3,dm22/dh1,dm22/dh20,dh3/dh1,d97/dh1,dm15/dh31,dm15/dh26,dm14/dh1}
  \draw[edge] (\a) -- (\b);
\foreach \a/\b in {d290/dh31,d290/d297,d297/d1,dm23/dh1,dm23/d34,dm24/dh1,dm24/d134,dm25/dh20,dm25/d34,d134/dh1,dh4/dh1,dh4/dh20,dm26/dh20,dm26/dh4,dm27/d208,dm27/dh20,dh74/dh31,dh74/d20,d144/d34,d144/dm24,d208/dh1,d208/dh20,dm28/dh20,dm28/d226,d20/dh11,d20/dh64,dh64/d34,dh64/dm24,dm29/d34,dm29/d208,d252/dh20,dh9/d20,d288/dm32,dm32/d34,dm32/d68,d90/d34,d90/dm30,dm30/dh20,d43/dm30,d43/dh20,dh11/d125,d125/d119,d258/dm31,dm31/d43,dm31/dh7,d180/d68,d68/d34,d287/d258,d287/d102,d287/dh6,dh70/d34,d197/d34,dh6/d102,dh6/dm34,dm34/d43,d256/dm33,dm33/dh56,dm33/d1,d185/d196,dh62/d34,dm35/d34,dm35/dh62,d89/d34,dm36/d34,dm36/dh49,dh49/d34,d292/dm36,dm37/d185,dm37/dh56,dm37/d34,d88/dm13,d196/dm37,dh60/d6,dm38/d6,dm38/d196,d6/d34,d6/d141,d6/d283b,d85b/d136,d85b/dh6,dm39/d6,dm39/dh6,d207/d128,d128/d6,d260/dm40,dm40/d6,d283b/d259,d158/dm42,dm42/d109,d158/d6,d141/dm39,d127/d207,d171/d207,d296/d260,dh65/d6,d180/dh11,d119/dh56,d256/d242,dm33/d88}
  \draw[edge] (\a) -- (\b);
\foreach \a/\b in {d270/dh18,d270/dh26,d270/dm43,d190/dh18,d24/dh18,d63/dh18,d63/d50,d50/d83,d50/d93,d93/dh18,dh18/d46,d46/d281,dh18/d178,d178/d95,d130/d95,dh18/d95,dh18/dm43,dh18/d3,dh18/dh19,d46/d3,dh68/d238,dh68/dm44,dh68/dh59,dm43/d238,dm43/dh20,d238/d95,dm44/d237,dm44/d87,dm44/d17,dm44/dh1,dh59/dh1,d116/dm18,d80/d17,d17/d3,d17/d193,d87/d3,d3/d277,d3/d148,d3/dh20,d3/d254,d3/dh19,d118/dh20,d143/dh20,dh21/dh20,d254/d193,d277/dh19,d277/d205,dCR61/dCR60,dCR60/dm46,dCR57/dm46,dht43/dm45,dm45/dm46,dm46/dht44,dm45/dh46,dh46/d205,d205/d2,d205/d214,d214/d12,d2/d241,d2/d235,d2/d12,dh19/dh20,dh19/dh5,dh19/d12,d148/dh20,dh20/d255,dh20/d192,dh20/d226,dh20/d172,dh20/dm47,dh20/dh7,dh20/d85,dh20/dm48,d105/d41,d41/d104,d104/d224,d112/d146,d146/d224,d224/d29,d29/d18,d18/d232,d18/d98,d18/dh16,d124/d41,d269/dh16,dh16/d257,dh16/d69,dh16/d14,dh16/d71,dh16/d284,dh16/dh14,dh16/d184,dh16/d191,dh16/d132,dh16/d58,dh16/d84,dh16/d23,dh16/dm55,dh16/dh15,dh16/d48,dh16/dh7,d298/d247,d247/d23,d23/dm51,dm51/dh7,d85/dm52,dm52/dh7,dm52/d156,dm49/dh7,dm50/d159,dm50/d133,d159/dh7,d133/dh7,d66/dh7,d249/dh7,dh7/d19,dh7/d156,dh7/d48,dh7/d58,d48/d225,d48/d61,d225/dh15,dm55/d167,dm55/dh15,d167/dh15,d152/dh15,dh15/d26,dh15/d179,d179/dh14,dh14/d162,dh14/d45,d45/d42,d45/d160,d45/d294,d42/d157,d42/d37,d37/dh40,d37/d284,d37/d76b,d37/d64b,d157/d107,d14/d57,dm53/dh7,dm53/d248,dm53/d152,d19/d149,d19/d248,d19/dm56,dm54/d73,dm54/d149,d154/d19,d131/d19,d251/dh15,d221/dm56,d221/dh7,d73/d66,dm56/dh15,dm47/dh7,dm47/d226,dm48/d298,dm49/d85,dm49/dm50,d102/dh7}
  \draw[edge] (\a) -- (\b);
\foreach \a/\b in {d1/dh7,d1/dh16,dh56/dh16,d34/dh16,dh31/dh20,dh31/dh1,dh26/dh18,dh13/dh18,dh1/dh18,d5/dh1,dh31/dh19,d34/dh7,dh11/dh7,d6/dh15,dh1/dh16,dh20/dh16,dh1/d3,d1/d34,dh56/d34,dh31/d3,dh33/dh18,d7/dh20,dh11/dh20,d1/dh20,dh13/dh1,dh39/d6,dm12/d6,dh56/dh7}
  \draw[edge] (\a) -- (\b);
\end{pgfonlayer}
\end{tikzpicture}
\end{document}
